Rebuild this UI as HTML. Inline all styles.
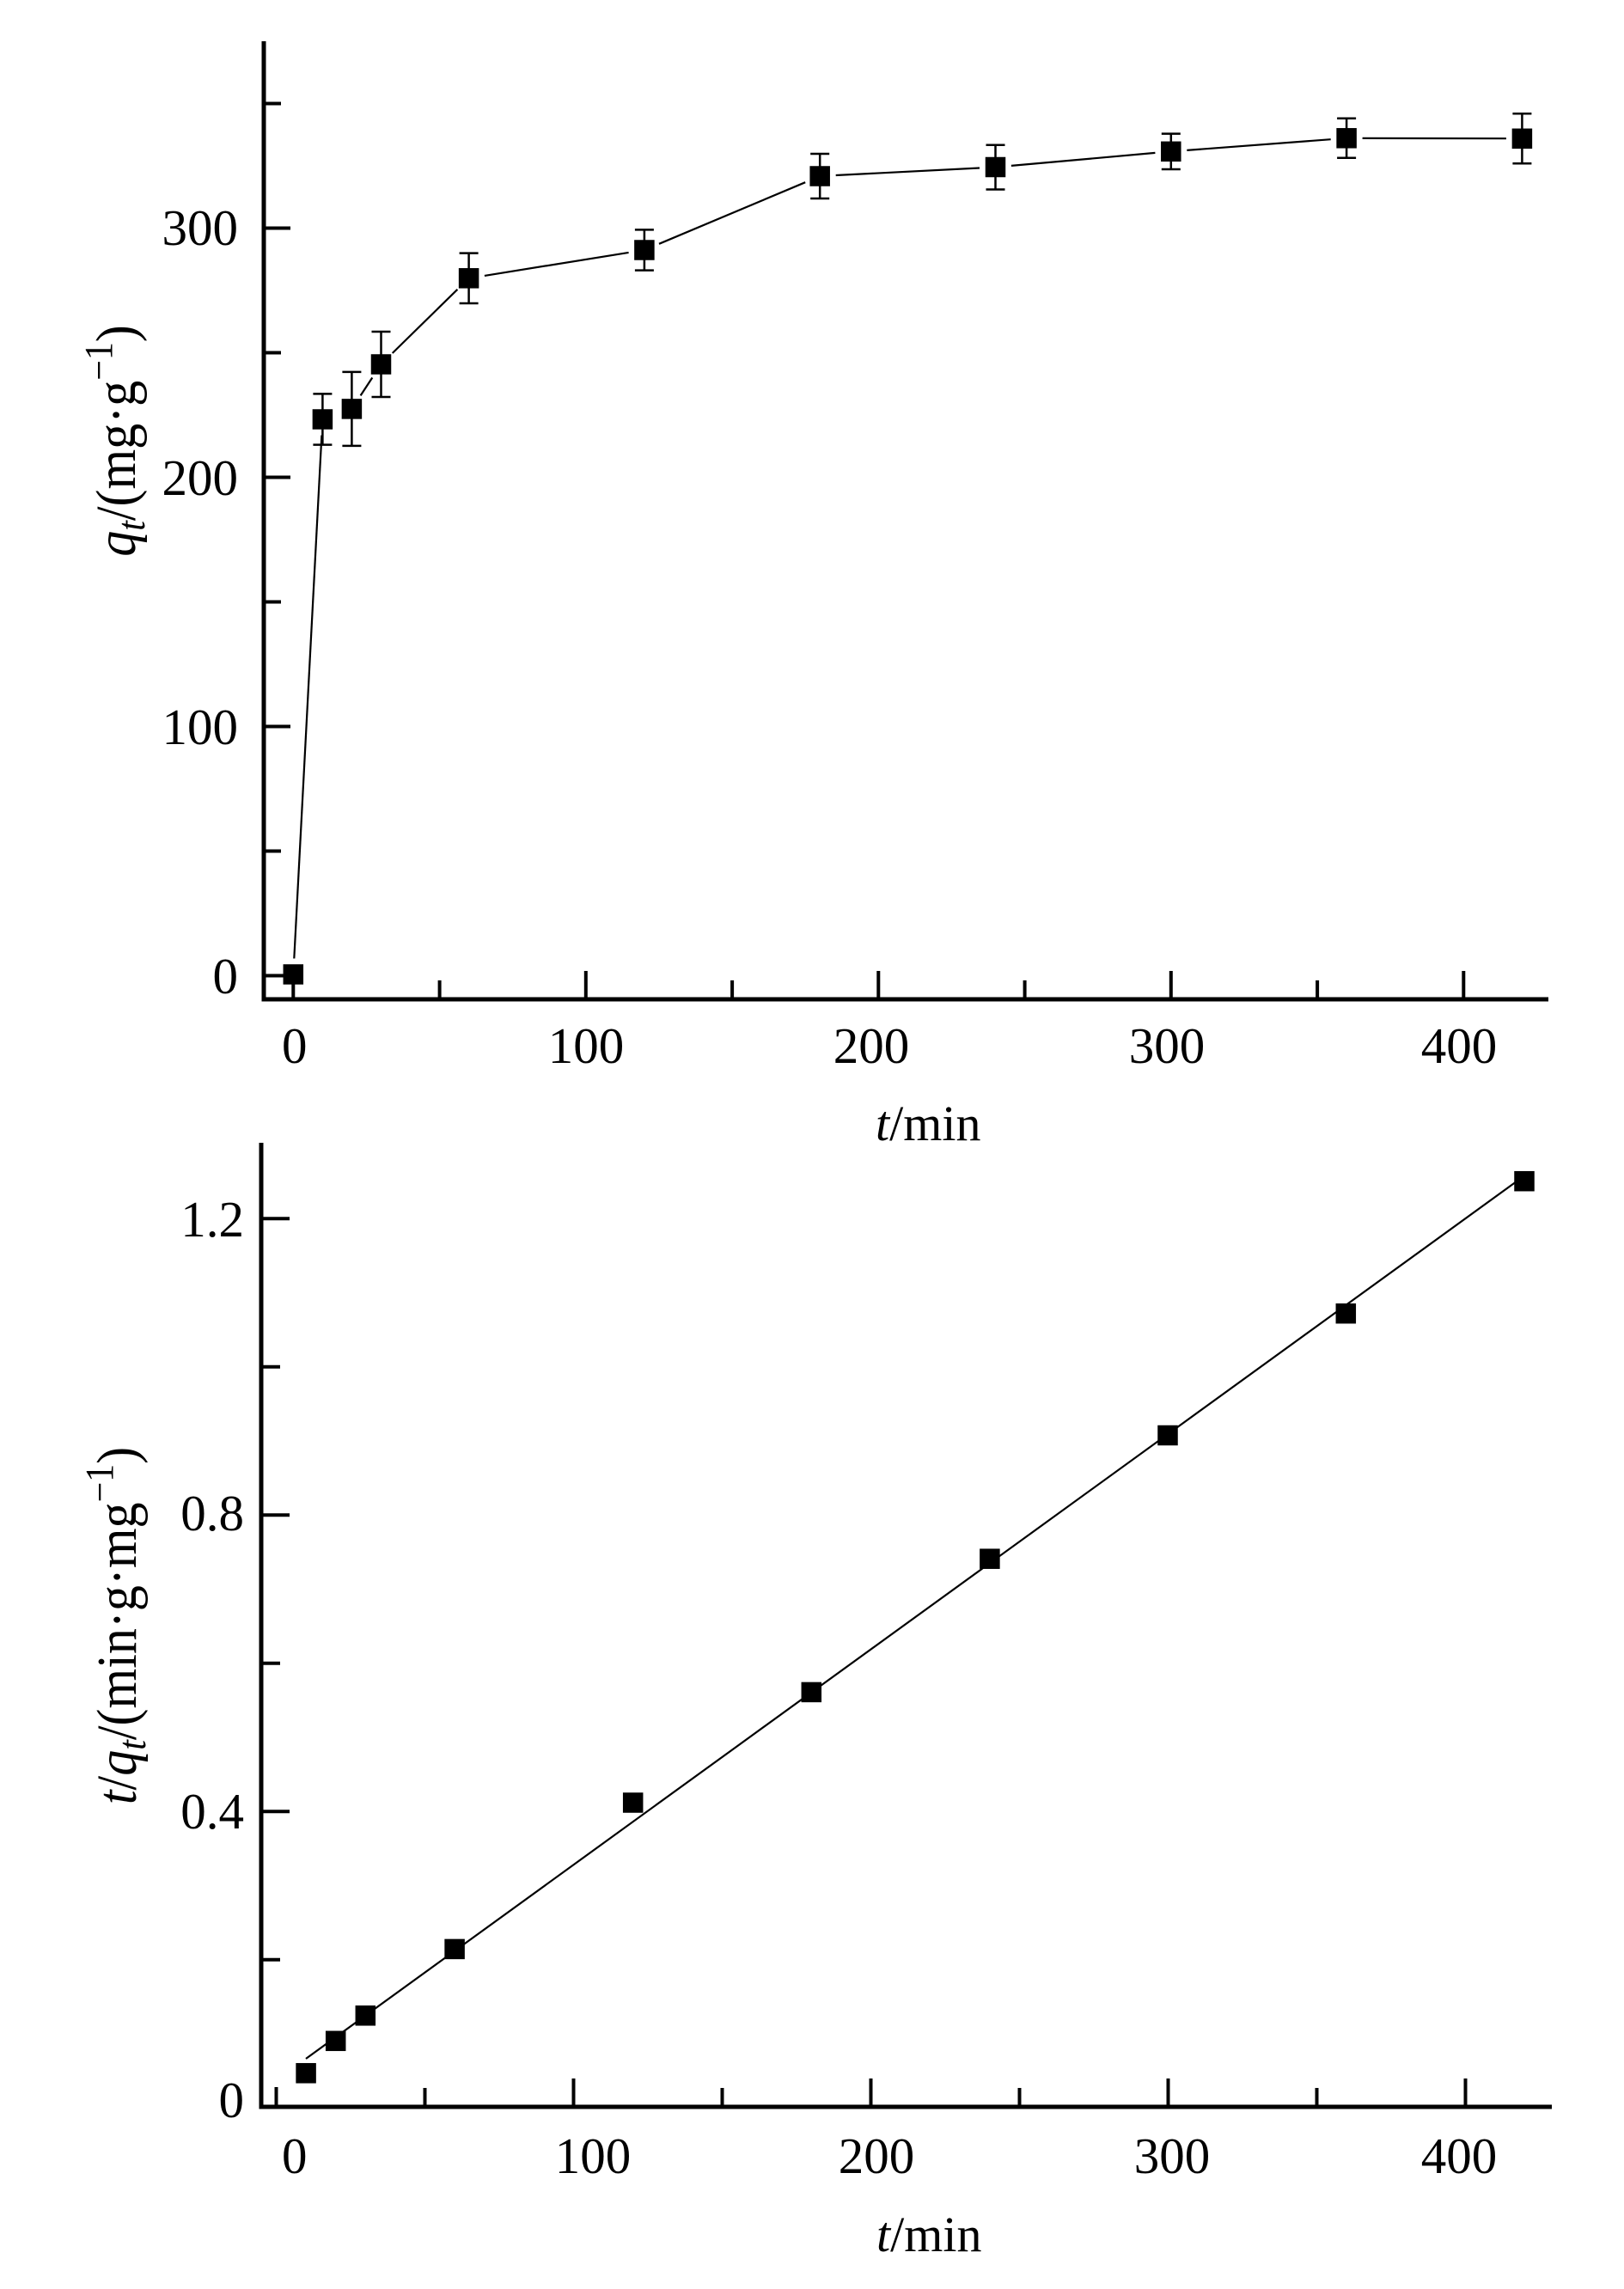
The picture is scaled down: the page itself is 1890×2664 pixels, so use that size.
<!DOCTYPE html>
<html>
<head>
<meta charset="utf-8">
<style>
  html,body{margin:0;padding:0;background:#fff;}
  svg{display:block;}
  text{font-family:"Liberation Serif","Times New Roman",serif;fill:#000;}
</style>
</head>
<body>
<svg width="1890" height="2664" viewBox="0 0 1890 2664" xmlns="http://www.w3.org/2000/svg">
  <rect x="0" y="0" width="1890" height="2664" fill="#fff"/>

  <!-- ================= TOP PANEL ================= -->
  <g stroke="#000" stroke-linecap="butt" fill="none">
    <!-- axes -->
    <line x1="307" y1="48" x2="307" y2="1165.5" stroke-width="5"/>
    <line x1="304.5" y1="1163" x2="1802" y2="1163" stroke-width="5"/>
    <!-- y ticks -->
    <g stroke-width="4">
      <line x1="307" y1="1135.5" x2="338" y2="1135.5"/>
      <line x1="307" y1="990.5" x2="327" y2="990.5"/>
      <line x1="307" y1="845.5" x2="338" y2="845.5"/>
      <line x1="307" y1="700.5" x2="327" y2="700.5"/>
      <line x1="307" y1="555.5" x2="338" y2="555.5"/>
      <line x1="307" y1="410.5" x2="327" y2="410.5"/>
      <line x1="307" y1="265.5" x2="338" y2="265.5"/>
      <line x1="307" y1="120.5" x2="327" y2="120.5"/>
    </g>
    <!-- x ticks -->
    <g stroke-width="4">
      <line x1="341.3" y1="1163" x2="341.3" y2="1130"/>
      <line x1="511.6" y1="1163" x2="511.6" y2="1141"/>
      <line x1="681.8" y1="1163" x2="681.8" y2="1130"/>
      <line x1="852.1" y1="1163" x2="852.1" y2="1141"/>
      <line x1="1022.3" y1="1163" x2="1022.3" y2="1130"/>
      <line x1="1192.6" y1="1163" x2="1192.6" y2="1141"/>
      <line x1="1362.8" y1="1163" x2="1362.8" y2="1130"/>
      <line x1="1533.1" y1="1163" x2="1533.1" y2="1141"/>
      <line x1="1703.3" y1="1163" x2="1703.3" y2="1130"/>
    </g>
    <!-- connecting line with gaps -->
    <g stroke-width="2.2">
      <line x1="342.3" y1="1115.5" x2="374.4" y2="506.5"/>
      <line x1="419.6" y1="460.4" x2="433.3" y2="439.5"/>
      <line x1="456.7" y1="411.0" x2="532.4" y2="336.8"/>
      <line x1="563.9" y1="320.9" x2="731.6" y2="293.9"/>
      <line x1="767.0" y1="283.8" x2="937.2" y2="212.2"/>
      <line x1="972.7" y1="204.0" x2="1140.0" y2="195.5"/>
      <line x1="1176.9" y1="192.9" x2="1344.4" y2="177.9"/>
      <line x1="1381.3" y1="174.9" x2="1548.7" y2="162.2"/>
      <line x1="1585.6" y1="160.9" x2="1752.9" y2="161.2"/>
    </g>
    <!-- error bars -->
    <g stroke-width="2.5">
      <path d="M375.4 458.4V517.6M364.4 458.4H386.4M364.4 517.6H386.4"/>
      <path d="M409.4 432.9V518.9M398.4 432.9H420.4M398.4 518.9H420.4"/>
      <path d="M443.5 386V462M432.5 386H454.5M432.5 462H454.5"/>
      <path d="M545.6 294.6V353M534.6 294.6H556.6M534.6 353H556.6"/>
      <path d="M749.9 267.4V314.6M738.9 267.4H760.9M738.9 314.6H760.9"/>
      <path d="M954.2 179V231M943.2 179H965.2M943.2 231H965.2"/>
      <path d="M1158.5 168.8V220.5M1147.5 168.8H1169.5M1147.5 220.5H1169.5"/>
      <path d="M1362.8 155.6V197M1351.8 155.6H1373.8M1351.8 197H1373.8"/>
      <path d="M1567.1 137.8V183.8M1556.1 137.8H1578.1M1556.1 183.8H1578.1"/>
      <path d="M1771.4 132.3V190.3M1760.4 132.3H1782.4M1760.4 190.3H1782.4"/>
    </g>
  </g>
  <!-- markers top -->
  <g fill="#000">
    <rect x="329.55" y="1122.25" width="23.5" height="23.5"/>
    <rect x="363.65" y="476.25" width="23.5" height="23.5"/>
    <rect x="397.65" y="464.15" width="23.5" height="23.5"/>
    <rect x="431.75" y="412.25" width="23.5" height="23.5"/>
    <rect x="533.85" y="312.05" width="23.5" height="23.5"/>
    <rect x="738.15" y="279.25" width="23.5" height="23.5"/>
    <rect x="942.45" y="193.25" width="23.5" height="23.5"/>
    <rect x="1146.75" y="182.75" width="23.5" height="23.5"/>
    <rect x="1351.05" y="164.55" width="23.5" height="23.5"/>
    <rect x="1555.35" y="149.05" width="23.5" height="23.5"/>
    <rect x="1759.65" y="149.55" width="23.5" height="23.5"/>
  </g>
  <!-- top tick labels -->
  <g font-size="59" text-anchor="end">
    <text x="277" y="1156">0</text>
    <text x="277" y="866">100</text>
    <text x="277" y="576">200</text>
    <text x="277" y="285">300</text>
  </g>
  <g font-size="59" text-anchor="middle">
    <text x="342.7" y="1237">0</text>
    <text x="682" y="1237">100</text>
    <text x="1014" y="1237">200</text>
    <text x="1358" y="1237">300</text>
    <text x="1698" y="1237">400</text>
  </g>
  <text x="1019" y="1327" font-size="58"><tspan font-style="italic">t</tspan>/min</text>
  <text transform="translate(157,513) rotate(-90) scale(1,1.1)" text-anchor="middle" font-size="60"><tspan font-style="italic">q</tspan><tspan font-style="italic" font-size="42" dy="10">t</tspan><tspan dy="-10">/(mg·g</tspan><tspan font-size="42" dy="-24">−1</tspan><tspan dy="24">)</tspan></text>

  <!-- ================= BOTTOM PANEL ================= -->
  <g stroke="#000" stroke-linecap="butt" fill="none">
    <line x1="304" y1="1330" x2="304" y2="2454.5" stroke-width="5"/>
    <line x1="301.5" y1="2452" x2="1806" y2="2452" stroke-width="5"/>
    <!-- y ticks -->
    <g stroke-width="4">
      <line x1="304" y1="2280.8" x2="326" y2="2280.8"/>
      <line x1="304" y1="2108.3" x2="337" y2="2108.3"/>
      <line x1="304" y1="1935.8" x2="326" y2="1935.8"/>
      <line x1="304" y1="1763.3" x2="337" y2="1763.3"/>
      <line x1="304" y1="1590.8" x2="326" y2="1590.8"/>
      <line x1="304" y1="1418.3" x2="337" y2="1418.3"/>
    </g>
    <!-- x ticks -->
    <g stroke-width="4">
      <line x1="321.5" y1="2452" x2="321.5" y2="2429"/>
      <line x1="494.5" y1="2452" x2="494.5" y2="2430"/>
      <line x1="667.5" y1="2452" x2="667.5" y2="2419"/>
      <line x1="840.5" y1="2452" x2="840.5" y2="2430"/>
      <line x1="1013.5" y1="2452" x2="1013.5" y2="2419"/>
      <line x1="1186.5" y1="2452" x2="1186.5" y2="2430"/>
      <line x1="1359.5" y1="2452" x2="1359.5" y2="2419"/>
      <line x1="1532.5" y1="2452" x2="1532.5" y2="2430"/>
      <line x1="1705.5" y1="2452" x2="1705.5" y2="2419"/>
    </g>
    <!-- fit line -->
    <line x1="356" y1="2396" x2="1776" y2="1367" stroke-width="2.2"/>
  </g>
  <g fill="#000">
    <rect x="344.35" y="2401.05" width="23.5" height="23.5"/>
    <rect x="378.95" y="2363.55" width="23.5" height="23.5"/>
    <rect x="413.55" y="2334.05" width="23.5" height="23.5"/>
    <rect x="517.35" y="2256.65" width="23.5" height="23.5"/>
    <rect x="724.95" y="2086.25" width="23.5" height="23.5"/>
    <rect x="932.55" y="1957.65" width="23.5" height="23.5"/>
    <rect x="1140.15" y="1802.45" width="23.5" height="23.5"/>
    <rect x="1347.25" y="1658.75" width="23.5" height="23.5"/>
    <rect x="1554.55" y="1516.95" width="23.5" height="23.5"/>
    <rect x="1762.25" y="1362.95" width="23.5" height="23.5"/>
  </g>
  <g font-size="59" text-anchor="end">
    <text x="284" y="2464">0</text>
    <text x="284" y="2128">0.4</text>
    <text x="284" y="1781">0.8</text>
    <text x="284" y="1439">1.2</text>
  </g>
  <g font-size="59" text-anchor="middle">
    <text x="342.7" y="2529">0</text>
    <text x="690" y="2529">100</text>
    <text x="1020" y="2529">200</text>
    <text x="1364" y="2529">300</text>
    <text x="1698" y="2529">400</text>
  </g>
  <text x="1020" y="2620" font-size="58"><tspan font-style="italic">t</tspan>/min</text>
  <text transform="translate(158,1892) rotate(-90) scale(1,1.1)" text-anchor="middle" font-size="60"><tspan font-style="italic">t</tspan>/<tspan font-style="italic">q</tspan><tspan font-style="italic" font-size="42" dy="10">t</tspan><tspan dy="-10">/(min·g·mg</tspan><tspan font-size="42" dy="-24">−1</tspan><tspan dy="24">)</tspan></text>
</svg>
</body>
</html>
